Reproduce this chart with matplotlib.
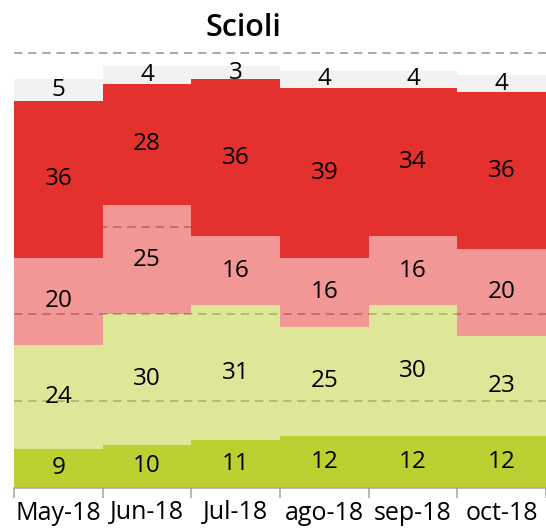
import numpy as np
import matplotlib
matplotlib.use("Agg")
import matplotlib.pyplot as plt

plt.rcParams['font.family'] = ['Open Sans', 'DejaVu Sans']

months = ['May-18', 'Jun-18', 'Jul-18', 'ago-18', 'sep-18', 'oct-18']
muy_buena = [9, 10, 11, 12, 12, 12]
buena = [24, 30, 31, 25, 30, 23]
regular = [20, 25, 16, 16, 16, 20]
mala = [36, 28, 36, 39, 34, 36]
ns_nc = [5, 4, 3, 4, 4, 4]

series = [muy_buena, buena, regular, mala, ns_nc]
colors = ['#BDD031', '#BDD031', '#E5312D', '#E5312D', '#F2F2F2']
alphas = [1.0, 0.5, 0.5, 1.0, 1.0]

fig = plt.figure(figsize=(5.46, 5.31), dpi=100)
ax = fig.add_axes([14/546, 1 - 488/531, 1 - 14/546, (488 - 51)/531])

x = np.arange(len(months))
bottom = np.zeros(len(months))
for vals, c, a in zip(series, colors, alphas):
    vals = np.array(vals)
    ax.bar(x, vals, width=1.0, bottom=bottom, color=c, alpha=a, zorder=2, linewidth=0)
    for xi, b, v in zip(x, bottom, vals):
        ax.text(xi, b + v / 2, str(v), ha='center', va='center', fontsize=17.5, color='black', zorder=3)
    bottom += vals

ax.set_xlim(-0.5, len(months) - 0.5)
ax.set_ylim(0, 100.5)
for yv in [20, 40, 60, 80, 100]:
    ax.axhline(yv, color='#999999', linestyle=(0, (5, 3.5)), linewidth=1.2, zorder=1)

ax.set_yticks([])
ax.set_xticks(x)
ax.set_xticklabels(months, fontsize=18)
ax.set_xticks(np.arange(len(months) + 1) - 0.5, minor=True)
ax.tick_params(axis='x', which='major', length=0, pad=9)
ax.tick_params(axis='x', which='minor', length=7, color='#aaaaaa', width=1.2)
for s in ['top', 'right', 'left']:
    ax.spines[s].set_visible(False)
ax.spines['bottom'].set_color('#aaaaaa')
ax.spines['bottom'].set_linewidth(1.2)

fig.text(243/546, 1 - 28/531, 'Scioli', ha='center', va='center', fontsize=22, fontweight='semibold')

fig.savefig('out.png', dpi=100)
